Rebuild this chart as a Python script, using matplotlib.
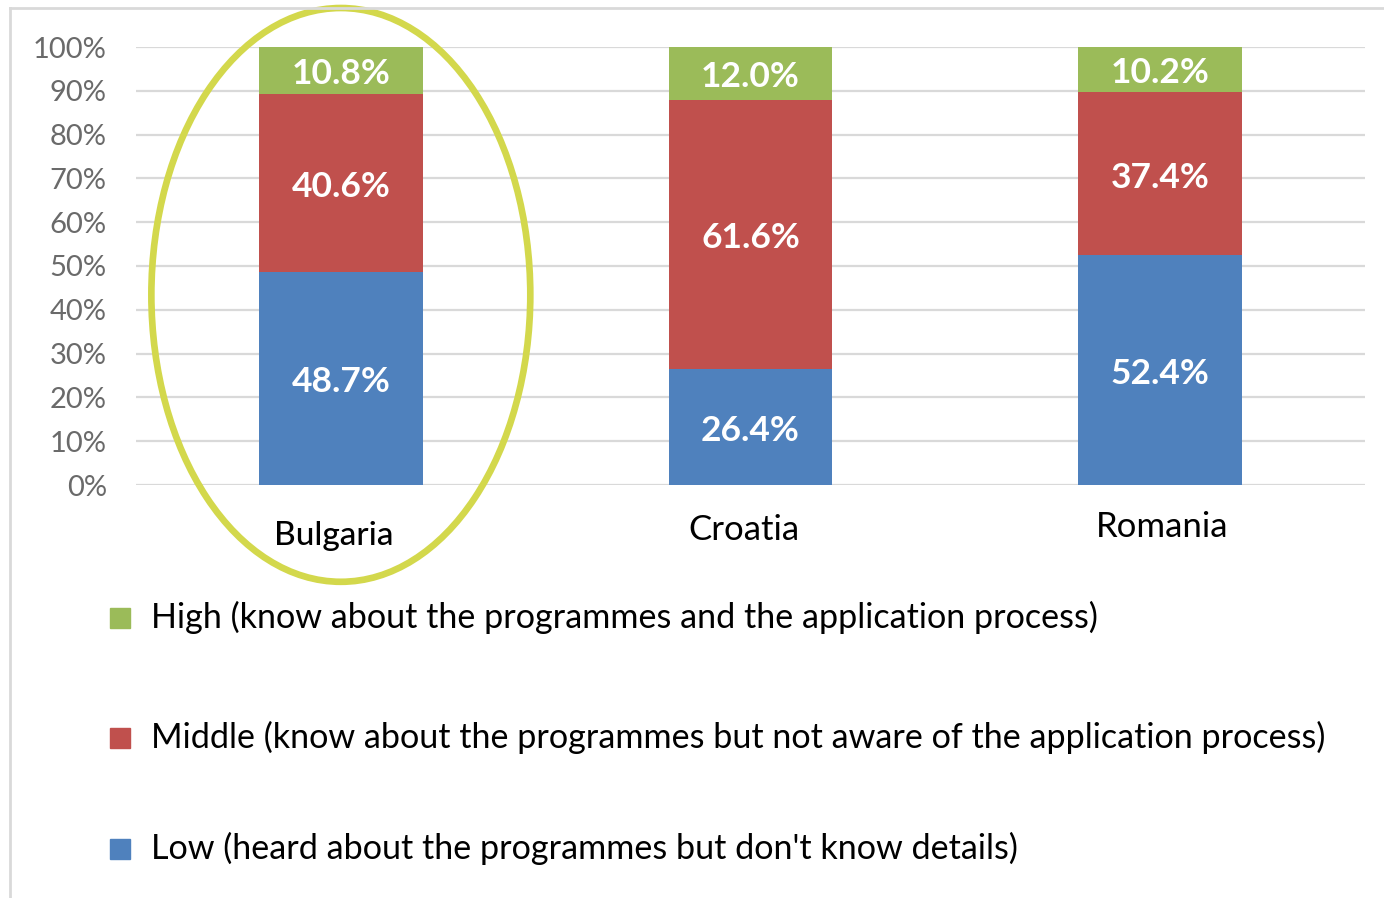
import matplotlib.pyplot as plt
from matplotlib.patches import Ellipse, Rectangle
from matplotlib.lines import Line2D
import matplotlib.transforms as mtransforms

plt.rcParams['font.family'] = ['Lato', 'DejaVu Sans']

# data
countries = ['Bulgaria', 'Croatia', 'Romania']
low = [48.7, 26.4, 52.4]
middle = [40.6, 61.6, 37.4]
high = [10.8, 12.0, 10.2]
series_names = [
    'High (know about the programmes and the application process)',
    'Middle (know about the programmes but not aware of the application process)',
    "Low (heard about the programmes but don't know details)",
]
colors = {'low': '#4F81BD', 'middle': '#C0504D', 'high': '#9BBB59'}
yticks = [0, 10, 20, 30, 40, 50, 60, 70, 80, 90, 100]

W, H = 1384, 898
fig = plt.figure(figsize=(W / 100, H / 100), dpi=100)
ax = fig.add_axes([136 / W, (H - 485) / H, (1365 - 136) / W, (485 - 47) / H])

x = range(len(countries))
bw = 0.4
b1 = ax.bar(x, low, bw, color=colors['low'], zorder=3)
b2 = ax.bar(x, middle, bw, bottom=low, color=colors['middle'], zorder=3)
bottoms = [a + b for a, b in zip(low, middle)]
b3 = ax.bar(x, high, bw, bottom=bottoms, color=colors['high'], zorder=3)

# value labels sit a few pixels below the segment centre in the original
lab_trans = mtransforms.offset_copy(ax.transData, fig=fig, x=0, y=-4, units='dots')
for bars, vals in [(b1, low), (b2, middle), (b3, high)]:
    for rect, v in zip(bars, vals):
        cy = rect.get_y() + rect.get_height() / 2
        ax.text(rect.get_x() + rect.get_width() / 2, cy, f'{v:.1f}%',
                transform=lab_trans, ha='center', va='center', color='white',
                fontsize=25.5, fontweight='bold', zorder=4)

ax.set_xlim(-0.5, 2.5)
ax.set_ylim(0, 100)
ax.set_yticks(yticks)
ax.set_yticklabels([f'{t}%' for t in yticks], fontsize=21, color='#6a6a6a')
ax.tick_params(axis='y', length=0, pad=21)
ax.set_xticks([])
ax.grid(axis='y', color='#d9d9d9', linewidth=1.6, zorder=0)
for s in ax.spines.values():
    s.set_visible(False)

# category labels (slightly different positions as in the original)
label_dx = [-7, -7, 2]
label_dy = [51, 45, 42]
label_fs = [24, 25, 25]
for i, c in enumerate(countries):
    trans = mtransforms.offset_copy(ax.get_xaxis_transform(), fig=fig,
                                    x=label_dx[i], y=-label_dy[i], units='dots')
    ax.text(i, 0, c, transform=trans, ha='center', va='center',
            fontsize=label_fs[i], color='black',
            fontweight='medium' if i == 0 else 'normal')

# highlight ellipse around Bulgaria
ell = Ellipse((0, 43.4), 0.925, 131, fill=False, edgecolor='#D3D84C',
              linewidth=4.8, clip_on=False, zorder=5)
ax.add_patch(ell)

# legend, drawn by hand
leg_colors = [colors['high'], colors['middle'], colors['low']]
leg_y = [617, 737, 848]
for name, col, yy in zip(series_names, leg_colors, leg_y):
    fig.patches.append(Rectangle((110 / W, (H - yy - 11) / H), 20 / W, 20 / H,
                                 transform=fig.transFigure, color=col))
    fig.text(151 / W, (H - yy) / H, name, fontsize=24.6, va='center',
             ha='left', color='black')

# outer frame lines
fig.add_artist(Line2D([10 / W, 10 / W], [0, (H - 8) / H],
                      transform=fig.transFigure, color='#d9d9d9', lw=2))
fig.add_artist(Line2D([10 / W, 1], [(H - 8) / H, (H - 8) / H],
                      transform=fig.transFigure, color='#d9d9d9', lw=2))

fig.savefig('out.png', dpi=100)
